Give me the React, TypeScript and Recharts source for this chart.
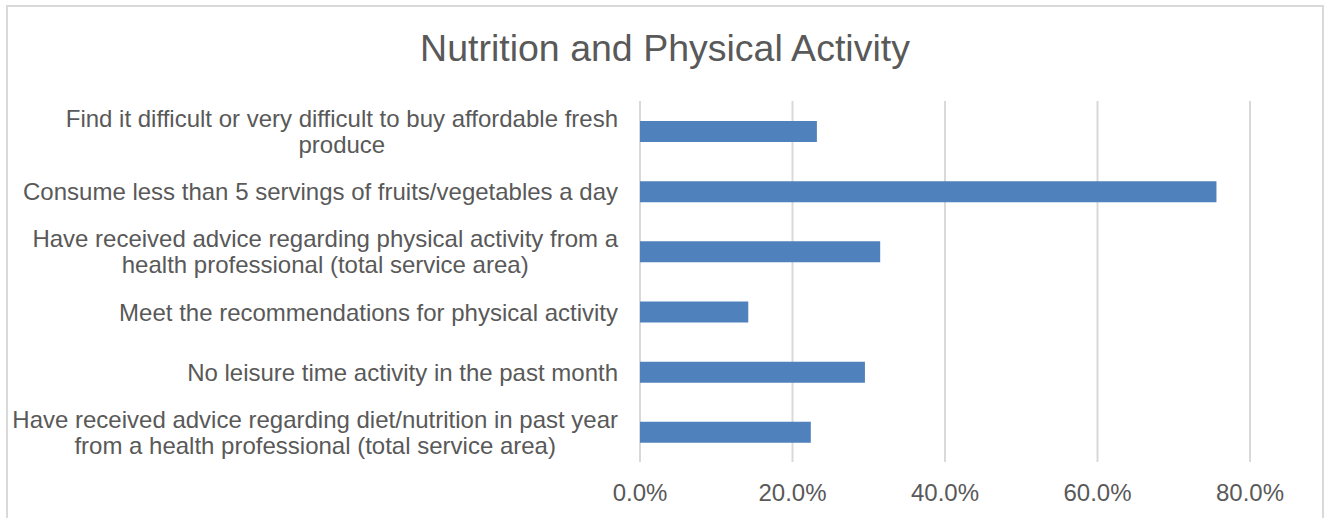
import React from "react";
import { BarChart, Bar, XAxis, YAxis, CartesianGrid } from "recharts";

const categories: string[] = [
  "Find it difficult or very difficult to buy affordable fresh\nproduce",
  "Consume less than 5 servings of fruits/vegetables a day",
  "Have received advice regarding physical activity from a\nhealth professional (total service area)",
  "Meet the recommendations for physical activity",
  "No leisure time activity in the past month",
  "Have received advice regarding diet/nutrition in past year\nfrom a health professional (total service area)",
];
const values: number[] = [0.232, 0.756, 0.315, 0.142, 0.295, 0.224];
const xTicks: number[] = [0, 0.2, 0.4, 0.6, 0.8];
const title = "Nutrition and Physical Activity";

const data = categories.map((name, i) => ({ name, value: values[i] }));

const FONT = "'Liberation Sans', Arial, sans-serif";
const TEXT = "#595959";
const LABEL_SIZE = 24;

let ctx: CanvasRenderingContext2D | null = null;
const measure = (s: string, size: number) => {
  if (!ctx) ctx = document.createElement("canvas").getContext("2d");
  if (!ctx) return s.length * size * 0.5;
  ctx.font = `${size}px ${FONT}`;
  return ctx.measureText(s).width;
};

const CatTick = (props: any) => {
  const { x, y, payload } = props;
  const lines: string[] = String(payload.value).split("\n");
  const maxW = Math.max(...lines.map((l) => measure(l, LABEL_SIZE)));
  const cx = x - 14 - maxW / 2;
  const lh = 26;
  const y0 = y - ((lines.length - 1) * lh) / 2;
  return (
    <text
      x={cx}
      y={y0}
      textAnchor="middle"
      dominantBaseline="central"
      fill={TEXT}
      fontSize={LABEL_SIZE}
      fontFamily={FONT}
    >
      {lines.map((l, i) => (
        <tspan key={i} x={cx} y={y0 + i * lh} dominantBaseline="central">
          {l}
        </tspan>
      ))}
    </text>
  );
};

export default function App() {
  return (
    <div
      style={{
        position: "absolute",
        left: 0,
        top: 0,
        width: 1325,
        height: 518,
        overflow: "hidden",
        background: "#fff",
        fontFamily: FONT,
      }}
    >
      <div
        style={{
          position: "absolute",
          left: 6,
          top: 5,
          width: 1314,
          height: 600,
          border: "2px solid #d9d9d9",
        }}
      />
      <div
        style={{
          position: "absolute",
          left: 0,
          top: 24,
          width: 1330,
          height: 48,
          lineHeight: "48px",
          textAlign: "center",
          fontSize: 37.5,
          color: TEXT,
          fontFamily: FONT,
        }}
      >
        {title}
      </div>
      <div style={{ position: "absolute", left: 0, top: 0 }}>
        <BarChart
          width={1325}
          height={518}
          data={data}
          layout="vertical"
          margin={{ top: 101, right: 75, bottom: 0, left: 0 }}
          barCategoryGap={0}
        >
          <CartesianGrid
            horizontal={false}
            vertical={true}
            stroke="#d9d9d9"
            strokeWidth={2}
          />
          <XAxis
            type="number"
            domain={[0, 0.8]}
            ticks={xTicks}
            tickFormatter={(v: number) => `${(v * 100).toFixed(1)}%`}
            axisLine={false}
            tickLine={false}
            tickMargin={16}
            height={56}
            tick={{ fill: TEXT, fontSize: LABEL_SIZE, fontFamily: FONT }}
            interval={0}
          />
          <YAxis
            type="category"
            dataKey="name"
            width={640}
            axisLine={false}
            tickLine={false}
            tick={<CatTick />}
            interval={0}
          />
          <Bar
            dataKey="value"
            fill="#4F81BD"
            barSize={21}
            isAnimationActive={false}
          />
        </BarChart>
      </div>
    </div>
  );
}
